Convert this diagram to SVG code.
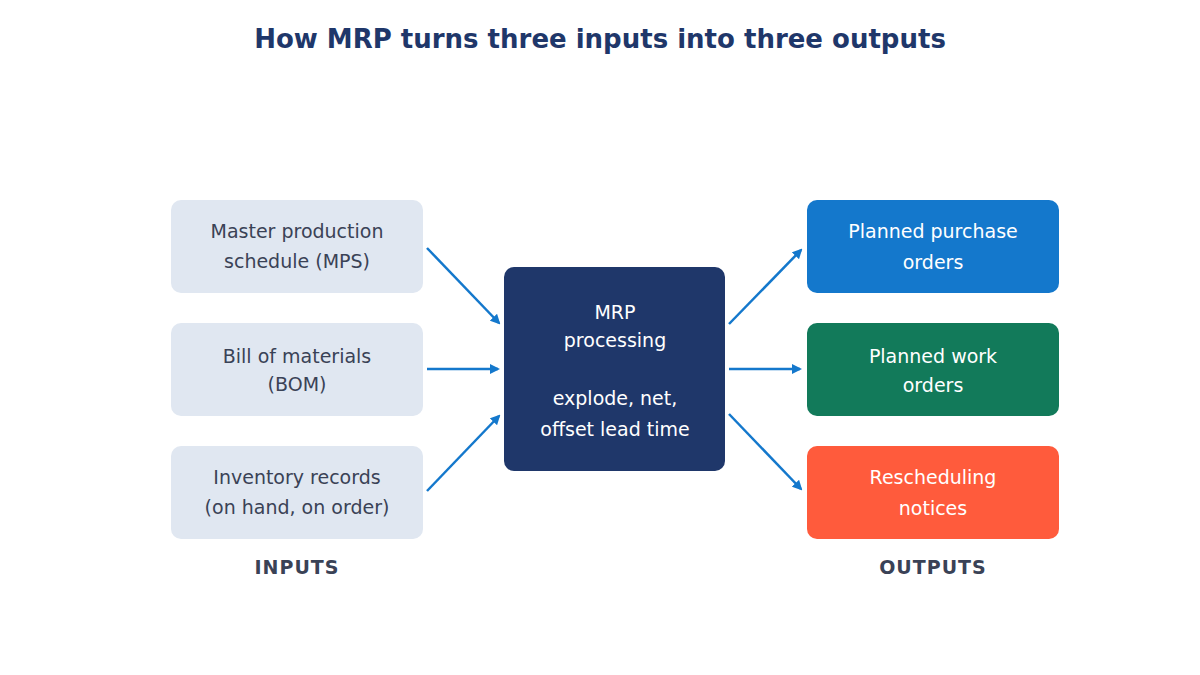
<svg xmlns="http://www.w3.org/2000/svg" width="1200" height="675" viewBox="0 0 1200 675">
<style>
text{font-family:"DejaVu Sans",sans-serif;text-anchor:middle}
.in{fill:#e0e7f1}
.it{fill:#3a4256;font-size:19px}
.wt{fill:#fff;font-size:19px}
.lb{fill:#3a4256;font-size:19px;font-weight:bold;letter-spacing:1px}
.c{stroke:#1478cc;stroke-width:2.5;fill:none;marker-end:url(#a)}
</style>
<defs><marker id="a" markerWidth="10" markerHeight="10" refX="8" refY="5" orient="auto" markerUnits="userSpaceOnUse"><path d="M0,0 L10,5 L0,10 Z" fill="#1478cc"/></marker></defs>
<rect width="1200" height="675" fill="#fff"/>
<text x="600" y="48" style="font-size:26px;font-weight:bold;fill:#1f376a">How MRP turns three inputs into three outputs</text>
<g id="mps"><rect class="in" x="171" y="200" width="252" height="93" rx="10"/><text class="it" x="297" y="238">Master production</text><text class="it" x="297" y="268">schedule (MPS)</text></g>
<g id="bom"><rect class="in" x="171" y="323" width="252" height="93" rx="10"/><text class="it" x="297" y="363">Bill of materials</text><text class="it" x="297" y="391">(BOM)</text></g>
<g id="inv"><rect class="in" x="171" y="446" width="252" height="93" rx="10"/><text class="it" x="297" y="484">Inventory records</text><text class="it" x="297" y="514">(on hand, on order)</text></g>
<g id="mrp"><rect x="504" y="267" width="221" height="204" rx="10" fill="#1f376a"/><text class="wt" x="615" y="319">MRP</text><text class="wt" x="615" y="347">processing</text><text class="wt" x="615" y="405">explode, net,</text><text class="wt" x="615" y="436">offset lead time</text></g>
<g id="ppo"><rect x="807" y="200" width="252" height="93" rx="10" fill="#1478cc"/><text class="wt" x="933" y="238">Planned purchase</text><text class="wt" x="933" y="269">orders</text></g>
<g id="pwo"><rect x="807" y="323" width="252" height="93" rx="10" fill="#127a5a"/><text class="wt" x="933" y="363">Planned work</text><text class="wt" x="933" y="392">orders</text></g>
<g id="rn"><rect x="807" y="446" width="252" height="93" rx="10" fill="#ff5b3c"/><text class="wt" x="933" y="484">Rescheduling</text><text class="wt" x="933" y="515">notices</text></g>
<text class="lb" x="297" y="574">INPUTS</text>
<text class="lb" x="933" y="574">OUTPUTS</text>
<g id="connectors">
<line class="c" x1="427" y1="248" x2="499" y2="323"/>
<line class="c" x1="427" y1="369" x2="498" y2="369"/>
<line class="c" x1="427" y1="491" x2="499" y2="416"/>
<line class="c" x1="729" y1="324" x2="801" y2="250"/>
<line class="c" x1="729" y1="369" x2="800" y2="369"/>
<line class="c" x1="729" y1="414" x2="801" y2="489"/>
</g>
</svg>
